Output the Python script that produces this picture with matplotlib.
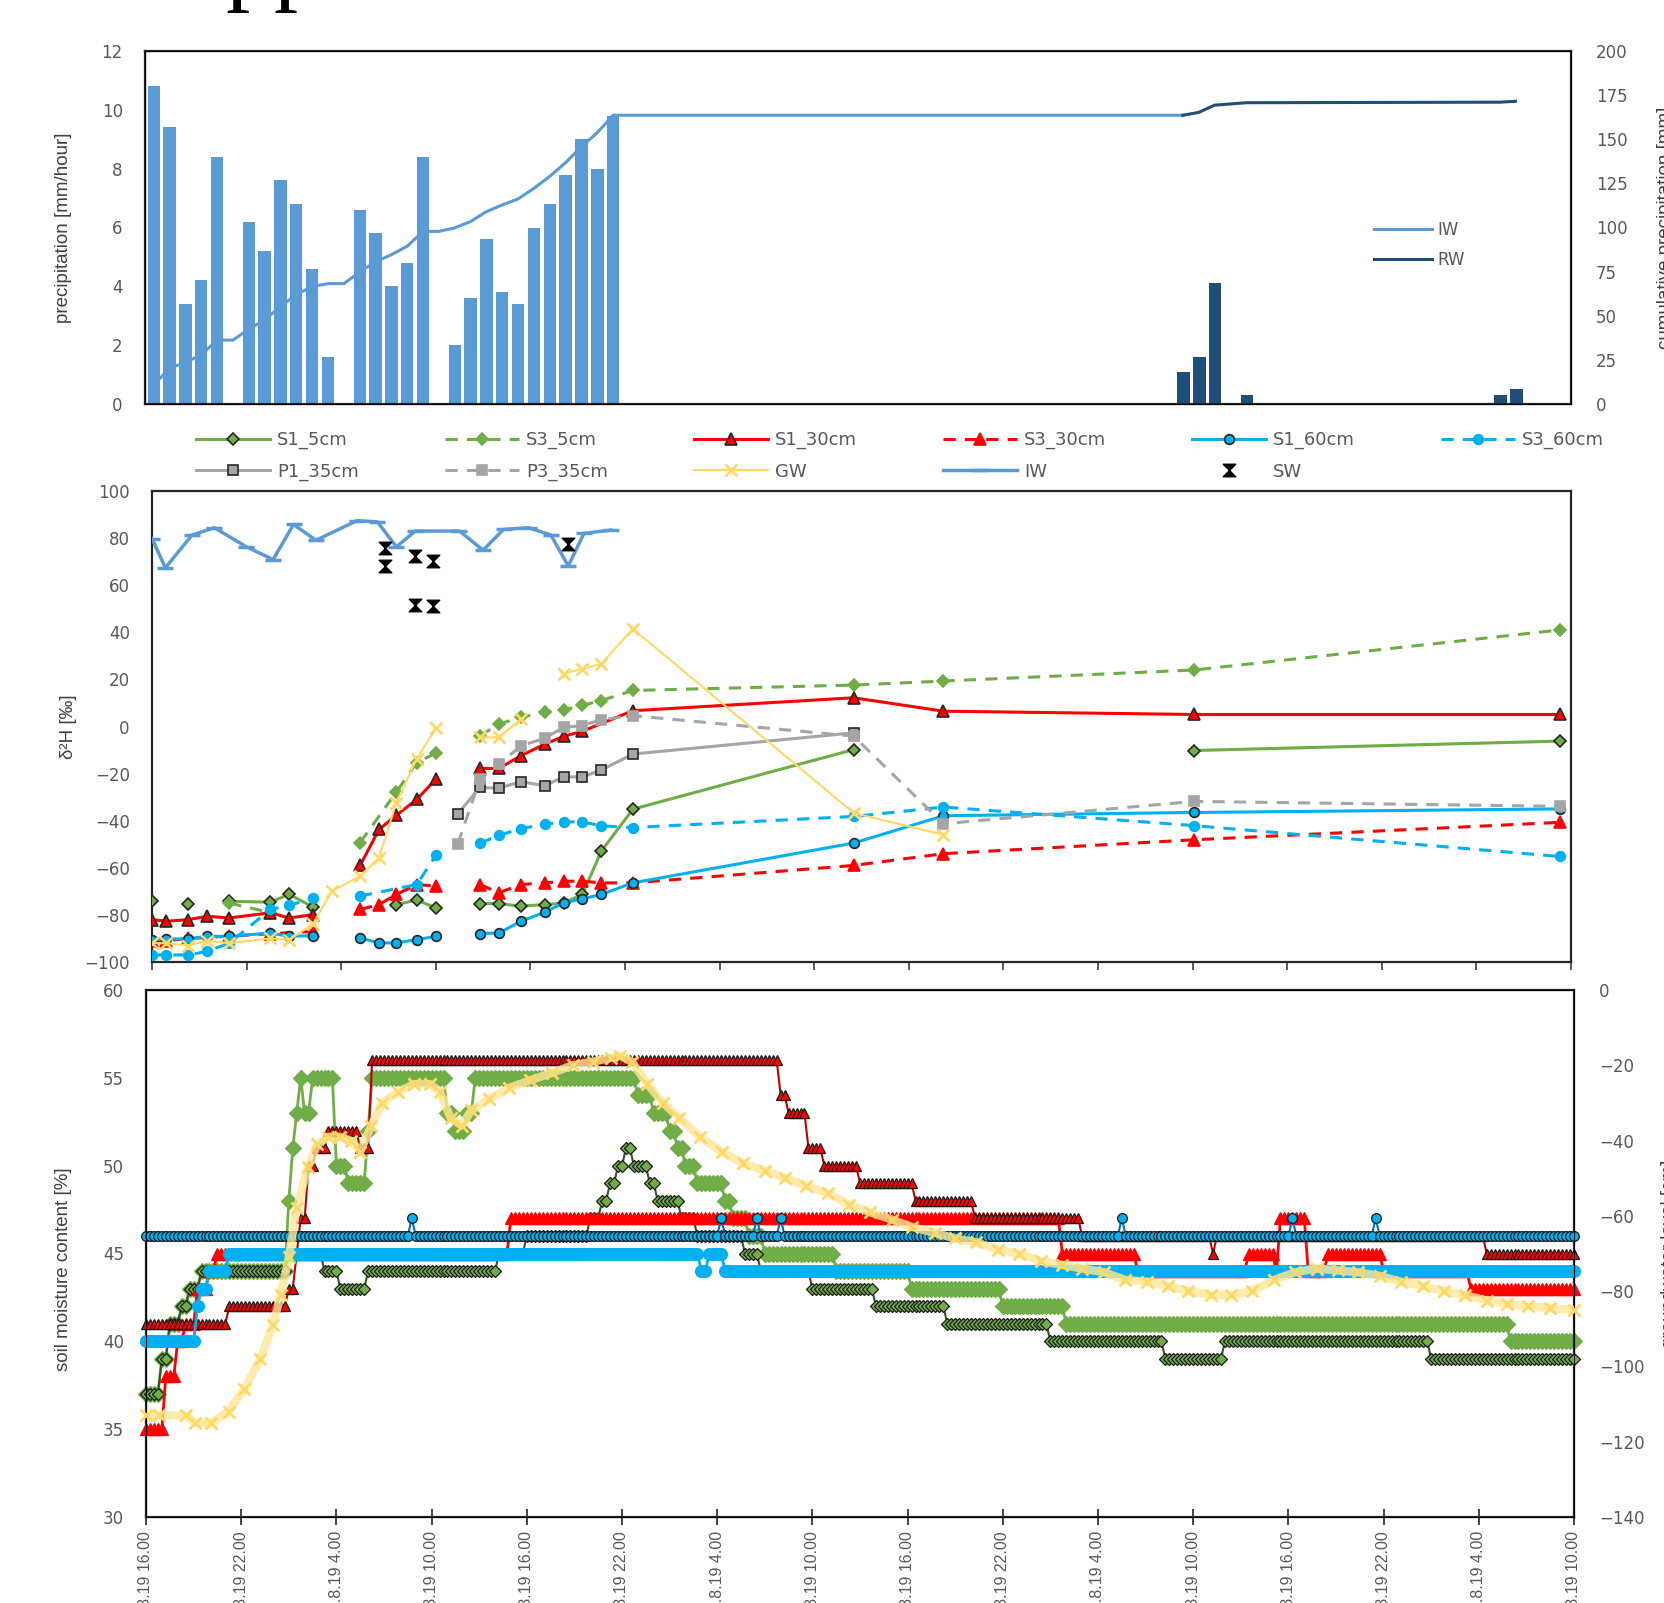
import numpy as np
import matplotlib
matplotlib.use('Agg')
import matplotlib.pyplot as plt
from matplotlib.path import Path

nan = np.nan

# hourly precipitation (mm/hour), hours after 27.8.19 16:00
iw_hour = np.arange(30)
iw_rate = [10.8, 9.4, 3.4, 4.2, 8.4, 0, 6.2, 5.2, 7.6, 6.8, 4.6, 1.6, 0,
           6.6, 5.8, 4.0, 4.8, 8.4, 0, 2.0, 3.6, 5.6, 3.8, 3.4, 6.0, 6.8,
           7.8, 9.0, 8.0, 9.8]
rw_hour = [65, 66, 67, 69, 85, 86]
rw_rate = [1.1, 1.6, 4.1, 0.3, 0.3, 0.5]

# cumulative precipitation (mm)
iw_cum_t = list(np.arange(30) + 0.55) + [65.5]
iw_cum = [10.8, 20.2, 23.6, 27.8, 36.2, 36.2, 42.4, 47.6, 55.2, 62.0, 66.6,
          68.2, 68.2, 74.8, 80.6, 84.6, 89.4, 97.8, 97.8, 99.8, 103.4, 109.0,
          112.8, 116.2, 122.2, 129.0, 136.8, 145.8, 153.8, 163.6, 163.6]
rw_cum_t = [65.5, 66.5, 67.5, 69.5, 85.5, 86.5]
rw_cum = [163.6, 165.2, 169.3, 170.7, 171.0, 171.5]

# d2H samples (permil)
s1_5_t = [0, 1, 2.3, 3, 4.9, 7.5, 8.7, 10.2, 12, 15.5, 16.8, 18.0, 19, 20.8, 22.0,
          23.4, 24.9, 26.1, 27.3, 28.5, 30.5, 44.5, 55, 66.1, 89.3]
s1_5_v = [-74.2, nan, -75.2, nan, -74.2, -74.6, -71.3, -76.6, nan, -75.6, -73.7,
          -77.0, nan, -75.2, -75.2, -76.3, -75.6, -75.0, -71.3, -52.9, -35.1,
          -9.8, nan, -10.2, -6.2]
s3_5_t = [4.9, 7.5, 10, 13.2, 15.5, 16.8, 18.0, 19, 20.8, 22.0, 23.4, 24.9, 26.1,
          27.3, 28.5, 30.5, 44.5, 50.2, 66.1, 89.3]
s3_5_v = [-75, -79, nan, -49.3, -27.8, -15.3, -11.3, nan, -4.0, 1.0, 4.0, 6.0,
          7.0, 9.0, 11.0, 15.3, 17.6, 19.3, 24.0, 41.0]
s1_30_t = [0, 0.9, 2.3, 3.5, 4.9, 7.5, 8.7, 10.2, 12, 13.2, 14.4, 15.5, 16.8,
           18.0, 19, 20.8, 22.0, 23.4, 24.9, 26.1, 27.3, 30.5, 44.5, 50.2, 66.1,
           89.3]
s1_30_v = [-82.0, -82.7, -82.0, -80.6, -81.3, -79.1, -81.3, -79.9, nan, -59.0,
           -43.7, -37.7, -30.9, -22.4, nan, -17.8, -17.8, -12.4, -7.5, -4.2,
           -2.0, 6.7, 12.2, 6.5, 5.1, 5.1]
s3_30_t = [0, 0.9, 2.3, 4.9, 7.5, 10.2, 12, 13.2, 14.4, 15.5, 16.8, 18.0, 19,
           20.8, 22.0, 23.4, 24.9, 26.1, 27.3, 28.5, 30.5, 44.5, 50.2, 66.1, 89.3]
s3_30_v = [-91, -91, -90, -89, -88, -87, nan, -77.7, -75.6, -71.3, -67.1, -67.8,
           nan, -67.1, -70.6, -67.1, -66.4, -65.7, -65.7, -66.4, -66.4, -59.0,
           -54.0, -48.1, -40.7]
s1_60_t = [0, 0.9, 2.3, 3.5, 4.9, 7.5, 8.7, 10.2, 12, 13.2, 14.4, 15.5, 16.8,
           18.0, 19, 20.8, 22.0, 23.4, 24.9, 26.1, 27.3, 28.5, 30.5, 44.5, 50.2,
           66.1, 89.3]
s1_60_v = [-90.5, -90.2, -90.2, -89.1, -89.1, -87.7, -89.1, -88.8, nan, -89.8,
           -91.9, -91.9, -90.5, -89.1, nan, -87.9, -87.7, -82.7, -78.9, -74.9,
           -73.2, -71.3, -66.4, -49.5, -37.9, -36.5, -35.0]
s3_60_t = [0, 0.9, 2.3, 3.5, 4.9, 7.5, 8.7, 10.2, 12, 13.2, 16.8, 18.0, 19, 20.8,
           22.0, 23.4, 24.9, 26.1, 27.3, 28.5, 30.5, 44.5, 50.2, 66.1, 89.3]
s3_60_v = [-97, -97, -97, -95.5, -92, -77.7, -76, -72.8, nan, -72.0, -67.1,
           -54.7, nan, -49.6, -46.2, -43.4, -41.5, -40.5, -40.5, -42.2, -42.9,
           -38.2, -34.2, -42.1, -55.2]
p1_35_t = [19.4, 20.8, 22.0, 23.4, 24.9, 26.1, 27.3, 28.5, 30.5, 44.5]
p1_35_v = [-37.0, -25.9, -26.2, -23.4, -25.2, -21.4, -21.4, -18.5, -11.7, -2.7]
p3_35_t = [19.4, 20.8, 22.0, 23.4, 24.9, 26.1, 27.3, 28.5, 30.5, 44.5, 50.2,
           66.1, 89.3]
p3_35_v = [-49.8, -22.4, -16.0, -8.2, -5.0, -0.4, 0.4, 2.9, 4.6, -4.1, -41.3,
           -31.8, -33.9]
gw_t = [0, 0.9, 2.3, 3.5, 4.9, 7.5, 8.7, 10.2, 11.4, 13.2, 14.4, 15.5, 16.8, 18.0,
        19, 20.8, 22.0, 23.4, 25, 26.1, 27.3, 28.5, 30.5, 44.5, 50.2]
gw_v = [-92, -92, -93, -91, -92, -90, -90.5, -84, -70, -63.5, -55.7, -32.3,
        -13.6, -0.8, nan, -4.6, -4.6, 3.2, nan, 22.4, 24.5, 26.6, 41.5, -36.7,
        -46.0]
iw_t = [0, 0.85, 2.54, 3.95, 5.99, 7.68, 8.98, 10.4, 13.0, 14.3, 15.5, 16.7,
        19.5, 21.0, 22.3, 23.9, 25.3, 26.4, 27.4, 29.1]
iw_v = [79.8, 67.4, 81.3, 84.4, 76.3, 70.9, 85.8, 79.1, 87.4, 86.9, 76.3, 83.0,
        83.0, 74.9, 83.7, 84.4, 81.3, 68.2, 82.0, 83.4]
sw_t = [14.8, 14.8, 16.7, 17.8, 16.7, 17.8, 26.4]
sw_v = [75.6, 68.1, 72.3, 70.2, 51.7, 51.0, 77.7]

# soil moisture (%) as runs: start hour -> value
sm_s1_5_start = [0, 0.8, 1.5, 2.1, 2.7, 3.3, 8.8, 11.2, 12.2, 13.9, 22.2, 24.0,
                 27.9, 28.6, 29.2, 29.6, 30.1, 30.6, 31.6, 32.2, 33.7, 34.6,
                 37.6, 38.7, 41.9, 45.9, 50.3, 57.0, 64.2, 67.9, 80.8]
sm_s1_5_val = [37, 39, 41, 42, 43, 44, 45, 44, 43, 44, 45, 46, 47, 48, 49, 50,
               51, 50, 49, 48, 47, 46, 45, 44, 43, 42, 41, 40, 39, 40, 39]
sm_s3_5_start = [0, 0.8, 1.5, 2.1, 2.7, 3.3, 8.9, 9.1, 9.3, 9.6, 10.0, 10.5,
                 12.0, 12.6, 13.9, 14.2, 18.9, 19.3, 20.2, 20.6, 30.9, 31.9,
                 32.8, 33.5, 33.9, 34.6, 36.5, 36.9, 37.9, 38.8, 43.3, 48.2,
                 54.0, 58.0, 85.9]
sm_s3_5_val = [37, 39, 41, 42, 43, 44, 48, 51, 53, 55, 53, 55, 50, 49, 52, 55,
               53, 52, 53, 55, 54, 53, 52, 51, 50, 49, 48, 47, 46, 45, 44, 43,
               42, 41, 40]
sm_s1_30_start = [0, 5.2, 8.9, 9.3, 9.7, 10.1, 10.6, 11.4, 13.5, 14.1, 40.0,
                  40.4, 41.6, 42.6, 45.0, 48.5, 52.2, 58.9, 67.2, 67.5, 84.5]
sm_s1_30_val = [41, 42, 43, 45, 47, 50, 51, 52, 51, 56, 54, 53, 51, 50, 49, 48,
                47, 46, 45, 46, 45]
sm_s3_30_start = [0, 1.1, 1.8, 2.3, 3.1, 3.8, 4.5, 22.9, 57.7, 62.4, 69.4, 71.1,
                  71.4, 73.1, 74.4, 77.8, 83.5]
sm_s3_30_val = [35, 38, 40, 41, 43, 44, 45, 47, 45, 44, 45, 44, 47, 44, 45, 44,
                43]
sm_s1_60_start = [0, 16.6, 16.9, 36.2, 36.5, 38.4, 38.7, 39.9, 40.2, 61.4, 61.7,
                  72.2, 72.5, 77.3, 77.6]
sm_s1_60_val = [46, 47, 46, 47, 46, 47, 46, 47, 46, 47, 46, 47, 46, 47, 46]
sm_s3_60_start = [0, 3.2, 3.5, 3.8, 5.2, 34.9, 35.3, 36.4]
sm_s3_60_val = [40, 42, 43, 44, 45, 44, 45, 44]

# groundwater level (cm)
gwl_t = [0, 0.8, 2.5, 3.1, 4.1, 5.2, 6.2, 7.2, 8.0, 8.5, 9.0, 9.5, 10.2, 10.8,
         11.5, 12.2, 12.9, 13.5, 14.2, 14.9, 15.9, 16.9, 17.9, 18.5, 19.2, 19.9,
         20.5, 21.6, 22.9, 24.2, 25.6, 26.9, 28.2, 29.3, 29.9, 30.6, 31.6, 32.6,
         33.6, 34.9, 36.3, 37.6, 39.0, 40.3, 41.6, 43.0, 44.3, 45.6, 47.0, 48.3,
         49.7, 51.0, 52.3, 53.7, 55.0, 56.4, 57.7, 59.0, 60.4, 61.7, 63.1, 64.4,
         65.7, 67.1, 68.4, 69.7, 71.1, 72.4, 73.8, 75.1, 76.4, 77.8, 79.1, 80.5,
         81.8, 83.1, 84.5, 85.8, 87.1, 88.5, 90.0]
gwl_v = [-113, -113, -113, -115, -115, -112, -106, -98, -89, -81, -71, -58, -47,
         -41, -39, -39, -40, -43, -36, -30, -27, -25, -25, -27, -34, -36, -32,
         -29, -26, -24, -22, -20, -19, -18, -17.5, -19, -25, -30, -34, -39, -43,
         -46, -48, -50, -52, -54, -57, -59, -61, -63, -64.5, -66, -67, -69, -70,
         -72, -73, -74, -75, -77, -77.5, -78.6, -80, -81, -81, -80, -77, -75,
         -74, -74.5, -75, -76, -77.5, -78.6, -80, -81, -82.5, -83.4, -84, -84.5,
         -85]

tick_labels = ['27.8.19 16.00', '27.8.19 22.00', '28.8.19 4.00', '28.8.19 10.00',
               '28.8.19 16.00', '28.8.19 22.00', '29.8.19 4.00', '29.8.19 10.00',
               '29.8.19 16.00', '29.8.19 22.00', '30.8.19 4.00', '30.8.19 10.00',
               '30.8.19 16.00', '30.8.19 22.00', '31.8.19 4.00', '31.8.19 10.00']

t_fine = np.arange(0, 90.01, 0.25)


def steps(starts, vals):
    idx = np.searchsorted(starts, t_fine, side='right') - 1
    return np.asarray(vals, float)[idx]


GREEN = '#70AD47'
RED = '#FF0000'
BLUE = '#00B0F0'
GREY = '#A5A5A5'
YELLOW = '#FFD966'
IWC = '#5B9BD5'
RWC = '#1F4E79'
TXT = '#595959'
NARROW = 'Liberation Sans'

hourglass = Path([(-1, 1), (1, 1), (-1, -1), (1, -1), (-1, 1)],
                 [Path.MOVETO, Path.LINETO, Path.LINETO, Path.LINETO, Path.CLOSEPOLY])

plt.rcParams['font.family'] = 'DejaVu Sans'

W, H = 1664, 1603
fig = plt.figure(figsize=(W / 100, H / 100), dpi=100)


def box(l, t, r, b):
    return [l / W, 1 - b / H, (r - l) / W, (b - t) / H]


ax1 = fig.add_axes(box(145, 51, 1571, 404))
ax2 = fig.add_axes(box(152, 491, 1571, 962))
ax3 = fig.add_axes(box(146, 990, 1574, 1517))

# partially cropped heading
fig.text(157 / W, 1 + 7 / H, 'Appendix', fontsize=69, family='Liberation Serif',
         va='baseline', ha='left', color='black')

# ---- top: precipitation ----
ax1.bar(iw_hour + 0.55, iw_rate, width=0.78, color=IWC, zorder=2)
ax1.bar(np.array(rw_hour) + 0.55, rw_rate, width=0.78, color=RWC, zorder=2)
ax1.set_ylim(0, 12)
ax1.set_yticks(range(0, 13, 2))
ax1.set_xlim(0, 90)
ax1.set_xticks([])
ax1b = ax1.twinx()
l_iw, = ax1b.plot(iw_cum_t, iw_cum, color=IWC, lw=2.2)
l_rw, = ax1b.plot(rw_cum_t, rw_cum, color=RWC, lw=2.2)
ax1b.set_ylim(0, 200)
ax1b.set_yticks(range(0, 201, 25))
ax1b.set_xlim(0, 90)
ax1b.legend([l_iw, l_rw], ['IW', 'RW'], loc='center left',
            bbox_to_anchor=(1374 / W, 1 - 245 / H), bbox_transform=fig.transFigure,
            frameon=False, fontsize=12, handlelength=3.5, handletextpad=0.3,
            labelspacing=0.75, borderpad=0, borderaxespad=0, labelcolor=TXT)
ax1.set_ylabel('precipitation [mm/hour]', family=NARROW, fontsize=13.5, color='#404040')
ax1.yaxis.set_label_coords(-0.051, 0.5)
ax1b.set_ylabel('cumulative precipitation [mm]', family=NARROW, fontsize=13.5,
                color='#404040', rotation=90)
ax1b.yaxis.set_label_coords(1.06, 0.5)

# ---- middle: d2H ----
def mid(t, v, color, ls, marker, edge, ms=7, lw=2.2, label=None):
    return ax2.plot(t, v, color=color, ls=ls, lw=lw, marker=marker, ms=ms,
                    mfc=color, mec=edge, mew=1.2, label=label, zorder=3)[0]


h_s1_5 = mid(s1_5_t, s1_5_v, GREEN, '-', 'D', '#262626', ms=6.5)
h_s3_5 = mid(s3_5_t, s3_5_v, GREEN, (0, (4, 3)), 'D', GREEN, ms=6.5)
h_s1_30 = mid(s1_30_t, s1_30_v, RED, '-', '^', '#262626', ms=8)
h_s3_30 = mid(s3_30_t, s3_30_v, RED, (0, (4, 3)), '^', RED, ms=8)
h_s1_60 = mid(s1_60_t, s1_60_v, BLUE, '-', 'o', '#262626', ms=7)
h_s3_60 = mid(s3_60_t, s3_60_v, BLUE, (0, (4, 3)), 'o', BLUE, ms=7)
h_p1 = mid(p1_35_t, p1_35_v, GREY, '-', 's', '#262626', ms=7)
h_p3 = mid(p3_35_t, p3_35_v, GREY, (0, (4, 3)), 's', GREY, ms=7)
h_gw = mid(gw_t, gw_v, YELLOW, '-', 'x', YELLOW, ms=9, lw=1.5)
h_gw.set_markeredgewidth(2)
h_iw = mid(iw_t, iw_v, IWC, '-', '_', IWC, ms=11, lw=2.5)
h_iw.set_markeredgewidth(2.5)
h_sw, = ax2.plot(sw_t, sw_v, ls='none', marker=hourglass, ms=9, color='black', zorder=4)
ax2.set_ylim(-100, 100)
ax2.set_yticks(range(-100, 101, 20))
ax2.set_xlim(0, 90)
ax2.set_xticks(range(0, 91, 6))
ax2.set_xticklabels([])
ax2.set_ylabel('\u03b4\u00b2H [\u2030]', family=[NARROW, 'DejaVu Sans'], fontsize=13.5,
               color='#404040')
ax2.yaxis.set_label_coords(-0.053, 0.5)

handles = [h_s1_5, h_p1, h_s3_5, h_p3, h_s1_30, h_gw, h_s3_30, h_iw, h_s1_60,
           h_sw, h_s3_60]
labels = ['S1_5cm', 'P1_35cm', 'S3_5cm', 'P3_35cm', 'S1_30cm', 'GW', 'S3_30cm',
          'IW', 'S1_60cm', 'SW', 'S3_60cm']
fig.legend(handles, labels, ncol=6, mode='expand', loc='center',
           bbox_to_anchor=(196 / W, 1 - 476 / H, (1604 - 196) / W, 40 / H),
           frameon=False, fontsize=13, handlelength=4.1, handletextpad=0.4,
           labelspacing=0.75, borderpad=0, borderaxespad=0, numpoints=1,
           labelcolor=TXT)

# ---- bottom: soil moisture ----
def sm(starts, vals, color, marker, edge, ms, lw=1.5, z=3, face=None):
    ax3.plot(t_fine, steps(starts, vals), color=color, lw=lw, marker=marker, ms=ms,
             mfc=face or color, mec=edge, mew=0.9, zorder=z, clip_on=False)


sm(sm_s3_5_start, sm_s3_5_val, GREEN, 'D', GREEN, 8, lw=2, z=2)
sm(sm_s1_5_start, sm_s1_5_val, '#375623', 'D', '#1a1a1a', 6.5, z=3, face=GREEN)
sm(sm_s3_30_start, sm_s3_30_val, RED, '^', RED, 8.5, lw=2, z=3)
sm(sm_s1_30_start, sm_s1_30_val, '#C00000', '^', '#1a1a1a', 7.5, z=4, face=RED)
sm(sm_s3_60_start, sm_s3_60_val, BLUE, 'o', BLUE, 8.5, lw=2, z=4)
sm(sm_s1_60_start, sm_s1_60_val, '#0070C0', 'o', '#1a1a1a', 7, z=5, face=BLUE)
ax3.set_ylim(30, 60)
ax3.set_yticks(range(30, 61, 5))
ax3.set_xlim(0, 90)
ax3.set_xticks(range(0, 91, 6))
ax3.set_xticklabels(tick_labels, rotation=90, family=NARROW, fontsize=11.5)
ax3.set_ylabel('soil moisture content [%]', family=NARROW, fontsize=13.5, color='#404040')
ax3.yaxis.set_label_coords(-0.052, 0.47)
ax3b = ax3.twinx()
ax3b.plot(gwl_t, gwl_v, color='#FFE699', lw=6, alpha=0.8, zorder=2)
ax3b.plot(gwl_t, gwl_v, color=YELLOW, lw=1, ls='none', marker='x', ms=9, mew=2,
          zorder=3, clip_on=False)
ax3b.set_ylim(-140, 0)
ax3b.set_yticks(range(-140, 1, 20))
ax3b.set_xlim(0, 90)
ax3b.set_ylabel('groundwater level [cm]', family=NARROW, fontsize=13.5, color='#404040')
ax3b.yaxis.set_label_coords(1.061, 0.5)

for ax in (ax1, ax2, ax3):
    ax.tick_params(axis='y', length=0, pad=16, labelsize=12, labelcolor=TXT)
    for s in ax.spines.values():
        s.set_linewidth(1.6)
        s.set_color('#262626')
for ax in (ax1b, ax3b):
    ax.tick_params(axis='y', length=0, pad=18, labelsize=12, labelcolor=TXT)
ax2.tick_params(axis='x', direction='out', length=6, width=1.2, color='#404040')
ax3.tick_params(axis='x', direction='inout', length=12, width=1.2, color='#262626',
                labelcolor=TXT, pad=4)

fig.savefig('out.png', dpi=100)
